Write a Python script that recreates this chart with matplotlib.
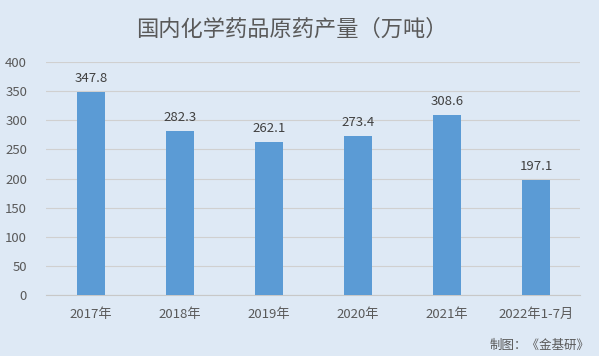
import matplotlib
matplotlib.use("Agg")
import matplotlib.pyplot as plt

plt.rcParams['font.family'] = ['Noto Sans CJK SC', 'DejaVu Sans']

categories = ["2017年", "2018年", "2019年", "2020年", "2021年", "2022年1-7月"]
values = [347.8, 282.3, 262.1, 273.4, 308.6, 197.1]
yticks = [0, 50, 100, 150, 200, 250, 300, 350, 400]

bg = "#dee9f5"
fig = plt.figure(figsize=(5.99, 3.56), dpi=100, facecolor=bg)
ax = fig.add_axes([0.0776, 0.171, 0.8915, 0.655], facecolor=bg)

x = list(range(len(categories)))
ax.bar(x, values, width=0.31, color="#5b9bd5", zorder=3)
for xi, v in zip(x, values):
    ax.text(xi, v + 12, f"{v}", ha="center", va="bottom", fontsize=9.5, color="#404040")

ax.set_xlim(-0.5, len(categories) - 0.5)
ax.set_ylim(0, 400)
ax.set_yticks(yticks)
ax.set_yticklabels([str(t) for t in yticks])
ax.set_xticks(x)
ax.set_xticklabels(categories)
ax.grid(axis="y", color="#d0d0d0", linewidth=0.8, zorder=0)
for s in ["top", "right", "left"]:
    ax.spines[s].set_visible(False)
ax.spines["bottom"].set_color("#c8c8c8")
ax.tick_params(axis="both", length=0, labelsize=9.5, labelcolor="#595959")
ax.tick_params(axis="y", pad=14)
ax.tick_params(axis="x", pad=9)

fig.text(0.488, 0.918, "国内化学药品原药产量（万吨）", ha="center", va="center",
         fontsize=16, color="#595959")
fig.text(0.985, 0.03, "制图：《金基研》", ha="right", va="center",
         fontsize=9, color="#595959")

fig.savefig("out.png", dpi=100, facecolor=bg)
